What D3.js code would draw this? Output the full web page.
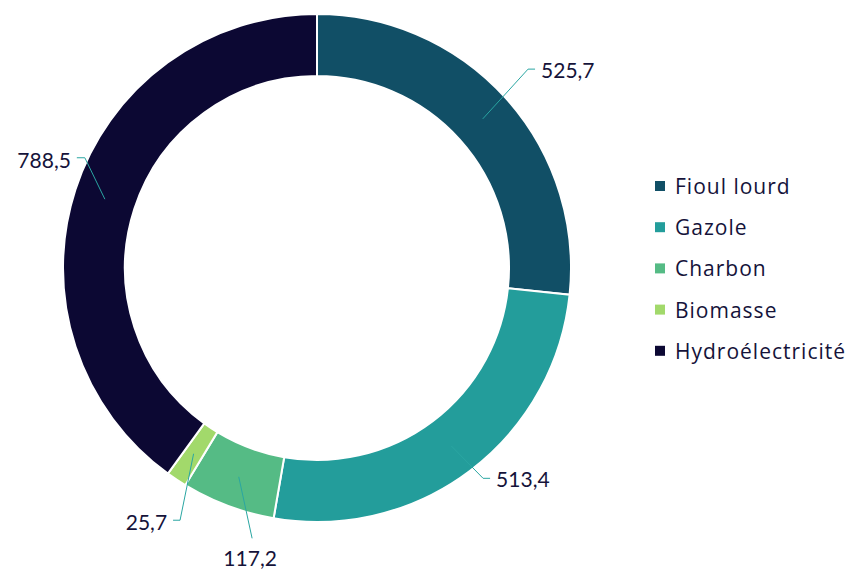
<!DOCTYPE html>
<html lang="fr">
<head>
    <meta charset="UTF-8">
    <title>Production par source</title>
    <style>
        body {
            margin: 0;
            padding: 0;
            background-color: white;
        }
        svg text {
            fill: #15133a;
        }
        .value-label {
            font-family: Lato, "Noto Sans", sans-serif;
            font-size: 21px;
        }
        .legend-label {
            font-family: "Open Sans", "Noto Sans", sans-serif;
            font-size: 21px;
            letter-spacing: 1px;
        }
    </style>
</head>
<body>
    <svg id="chart" width="850" height="570"></svg>

    <script src="https://cdn.jsdelivr.net/npm/d3@7"></script>
    <script>
        // data
        const categories = ['Fioul lourd', 'Gazole', 'Charbon', 'Biomasse', 'Hydroélectricité'];
        const values = [525.7, 513.4, 117.2, 25.7, 788.5];
        const valueLabels = ['525,7', '513,4', '117,2', '25,7', '788,5'];
        const colors = ['#114f66', '#239d9b', '#55bb85', '#a2d96b', '#0c0833'];

        const svg = d3.select('#chart');
        const cx = 317, cy = 268;
        const outerR = 254, innerR = 192;

        const color = d3.scaleOrdinal().domain(categories).range(colors);

        const pie = d3.pie().sort(null).value(d => d.value);
        const arcs = pie(categories.map((c, i) => ({ name: c, value: values[i], label: valueLabels[i] })));

        const arc = d3.arc().innerRadius(innerR).outerRadius(outerR);
        const midArc = d3.arc().innerRadius(223).outerRadius(223);

        const g = svg.append('g').attr('transform', `translate(${cx},${cy})`);

        g.selectAll('path.slice')
            .data(arcs)
            .enter()
            .append('path')
            .attr('class', 'slice')
            .attr('d', arc)
            .attr('fill', d => color(d.data.name))
            .attr('stroke', 'white')
            .attr('stroke-width', 2);

        // label placement, roughly like the original (elbow point in polar coords, tick direction)
        const labelLayout = {
            'Fioul lourd':      { ang: 46.7,  r: 290, tick: 7,  side: 'right' },
            'Gazole':           { ang: 141.7, r: 268, tick: 7,  side: 'right' },
            'Charbon':          { ang: 193.5, r: 278, tick: 0,  side: 'below' },
            'Biomasse':         { ang: 208.5, r: 287, tick: -7, side: 'left' },
            'Hydroélectricité': { ang: 295.4, r: 257, tick: -8, side: 'left' }
        };

        const polar = (deg, r) => {
            const a = deg * Math.PI / 180;
            return [r * Math.sin(a), -r * Math.cos(a)];
        };

        const labels = g.append('g');
        arcs.forEach(d => {
            const lay = labelLayout[d.data.name];
            const start = midArc.centroid(d);
            const elbow = polar(lay.ang, lay.r);
            const end = [elbow[0] + lay.tick, elbow[1]];

            labels.append('polyline')
                .attr('points', [start, elbow, end].map(p => p.join(',')).join(' '))
                .attr('fill', 'none')
                .attr('stroke', '#2aa6a2')
                .attr('stroke-width', 1);

            const t = labels.append('text')
                .attr('class', 'value-label')
                .text(d.data.label);
            if (lay.side === 'right') {
                t.attr('x', end[0] + 6).attr('y', end[1] + 9).attr('text-anchor', 'start');
            } else if (lay.side === 'left') {
                t.attr('x', end[0] - 6).attr('y', end[1] + 10).attr('text-anchor', 'end');
            } else {
                t.attr('x', end[0] - 2).attr('y', end[1] + 28).attr('text-anchor', 'middle');
            }
        });

        // legend
        const legend = svg.append('g').attr('transform', 'translate(655,194)');
        const row = legend.selectAll('g')
            .data(categories)
            .enter()
            .append('g')
            .attr('transform', (d, i) => `translate(0,${i * 41.2})`);

        row.append('rect')
            .attr('x', 0)
            .attr('y', -13)
            .attr('width', 10)
            .attr('height', 10)
            .attr('fill', d => color(d));

        row.append('text')
            .attr('class', 'legend-label')
            .attr('x', 20)
            .attr('y', 0)
            .text(d => d);
    </script>
</body>
</html>
